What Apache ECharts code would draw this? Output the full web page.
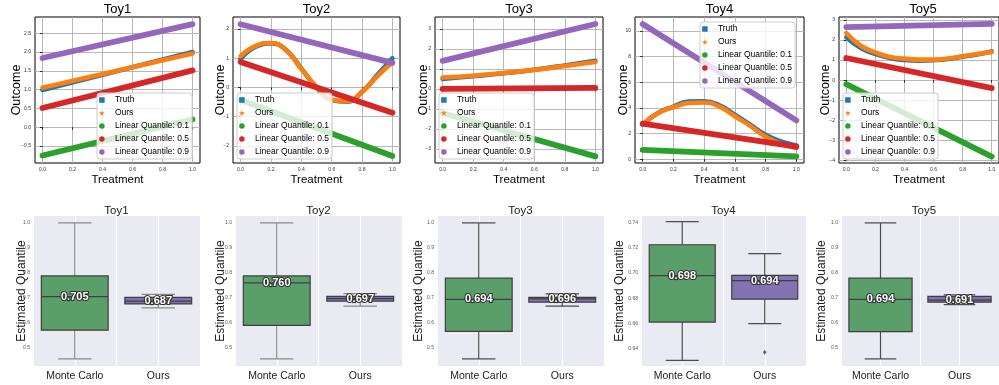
<!DOCTYPE html>
<html><head><meta charset="utf-8">
<script src="https://cdn.jsdelivr.net/npm/echarts@6/dist/echarts.min.js"></script>
<style>html,body{margin:0;padding:0;background:#fff}#c{width:999px;height:385px}</style>
</head><body><div id="c"></div>
<script>
// ---------- data ----------
const toyNames = ['Toy1', 'Toy2', 'Toy3', 'Toy4', 'Toy5'];
const seriesNames = ['Truth', 'Ours', 'Linear Quantile: 0.1', 'Linear Quantile: 0.5', 'Linear Quantile: 0.9'];
const boxCategories = ['Monte Carlo', 'Ours'];

const lineX = [0, 1];
const curveX6 = [0, 0.2, 0.4, 0.6, 0.8, 1.0];
const curveX11 = [0, 0.1, 0.2, 0.3, 0.4, 0.5, 0.6, 0.7, 0.8, 0.9, 1.0];
const treatTicks = [0, 0.2, 0.4, 0.6, 0.8, 1.0];

// Toy1
const toy1Truth = [0.99, 2.0];
const toy1Ours = [1.05, 1.96];
const toy1Q10 = [-0.75, 0.21];
const toy1Q50 = [0.51, 1.51];
const toy1Q90 = [1.84, 2.74];
// Toy2
const toy2Truth = [0.97, 1.39, 1.5, 1.28, 0.65, 0.0, -0.43, -0.49, -0.15, 0.42, 1.0];
const toy2Ours = [1.07, 1.42, 1.52, 1.27, 0.63, 0.02, -0.42, -0.47, -0.16, 0.38, 0.85];
const toy2Q10 = [-0.43, -2.35];
const toy2Q50 = [0.87, -0.87];
const toy2Q90 = [2.16, 0.84];
// Toy3
const toy3Truth = [0.5, 0.63, 0.78, 0.96, 1.17, 1.4];
const toy3Ours = [0.57, 0.66, 0.79, 0.95, 1.14, 1.34];
const toy3Q10 = [-1.2, -3.37];
const toy3Q50 = [0.0, 0.05];
const toy3Q90 = [1.4, 3.24];
// Toy4
const toy4Truth = [2.7, 3.6, 4.1, 4.49, 4.52, 4.2, 3.47, 2.69, 1.9, 1.38, 1.07];
const toy4Ours = [2.72, 3.6, 4.05, 4.38, 4.42, 4.1, 3.35, 2.6, 1.75, 1.2, 0.88];
const toy4Q10 = [0.73, 0.22];
const toy4Q50 = [2.77, 0.97];
const toy4Q90 = [10.55, 3.03];
// Toy5
const toy5Truth = [2.13, 1.6, 1.3, 1.1, 1.0, 0.97, 0.99, 1.05, 1.17, 1.28, 1.43];
const toy5Ours = [2.34, 1.71, 1.38, 1.15, 1.07, 1.02, 1.02, 1.08, 1.19, 1.3, 1.4];
const toy5Q10 = [-0.2, -3.8];
const toy5Q50 = [1.1, -0.4];
const toy5Q90 = [2.64, 2.8];

// top-row y tick labels
const topYTicks1 = [-0.5, 0, 0.5, 1, 1.5, 2, 2.5];
const topYTicks2 = [-2, -1, 0, 1, 2];
const topYTicks3 = [-3, -2, -1, 0, 1, 2, 3];
const topYTicks4 = [0, 2, 4, 6, 8, 10];
const topYTicks5 = [-4, -3, -2, -1, 0, 1, 2, 3];
const topYMin = [-0.95, -2.59, -3.7, -0.3, -4.12];
const topYMax = [2.93, 2.41, 3.59, 11.1, 3.14];

// bottom-row boxes: [min, Q1, median, Q3, max]
const mcBox1 = [0.456, 0.571, 0.705, 0.788, 1.0];
const mcBox2 = [0.456, 0.590, 0.760, 0.788, 1.0];
const mcBox3 = [0.456, 0.566, 0.694, 0.779, 1.0];
const mcBox4 = [0.6305, 0.661, 0.698, 0.7226, 0.741];
const mcBox5 = [0.456, 0.565, 0.694, 0.779, 1.0];
const oursBox1 = [0.660, 0.676, 0.687, 0.702, 0.714];
const oursBox2 = [0.667, 0.687, 0.697, 0.706, 0.717];
const oursBox3 = [0.667, 0.683, 0.696, 0.702, 0.716];
const oursBox4 = [0.6597, 0.6792, 0.694, 0.6982, 0.7155];
const oursBox5 = [0.673, 0.683, 0.691, 0.706, 0.712];
const oursOutliers4 = [0.637];
const botYTicksA = [0.5, 0.6, 0.7, 0.8, 0.9, 1.0];
const botYTicks4 = [0.64, 0.66, 0.68, 0.70, 0.72, 0.74];

// ---------- assembly ----------
const FONT = 'Liberation Sans';
const colors = ['#1f77b4', '#ff7f0e', '#2ca02c', '#d62728', '#9467bd'];
const lineWidths = [4.6, 4.6, 5.8, 5.8, 5.8];
const pairs = (xs, ys) => xs.map((x, i) => [x, ys[i]]);
const minus = s => String(s).replace('-', '\u2212');

const topCurves = [
  [pairs(lineX, toy1Truth), pairs(lineX, toy1Ours), pairs(lineX, toy1Q10), pairs(lineX, toy1Q50), pairs(lineX, toy1Q90)],
  [pairs(curveX11, toy2Truth), pairs(curveX11, toy2Ours), pairs(lineX, toy2Q10), pairs(lineX, toy2Q50), pairs(lineX, toy2Q90)],
  [pairs(curveX6, toy3Truth), pairs(curveX6, toy3Ours), pairs(lineX, toy3Q10), pairs(lineX, toy3Q50), pairs(lineX, toy3Q90)],
  [pairs(curveX11, toy4Truth), pairs(curveX11, toy4Ours), pairs(lineX, toy4Q10), pairs(lineX, toy4Q50), pairs(lineX, toy4Q90)],
  [pairs(curveX11, toy5Truth), pairs(curveX11, toy5Ours), pairs(lineX, toy5Q10), pairs(lineX, toy5Q50), pairs(lineX, toy5Q90)]
];
const topYTicks = [topYTicks1, topYTicks2, topYTicks3, topYTicks4, topYTicks5];
const topYFmt = [v => minus(v.toFixed(1)), v => minus(v), v => minus(v), v => String(v), v => minus(v)];
const mcBoxes = [mcBox1, mcBox2, mcBox3, mcBox4, mcBox5];
const oursBoxes = [oursBox1, oursBox2, oursBox3, oursBox4, oursBox5];
const botYTicks = [botYTicksA, botYTicksA, botYTicksA, botYTicks4, botYTicksA];

// layout (pixels)
const topGrid = [[35, 165], [233, 167], [435, 168], [635, 169], [839, 168]];
const topNameGap = [12, 6, 5, 4.5, 6.5];
const botGrid = [[33, 167], [235, 167], [437, 167], [641, 165], [841, 166]];
const botNameGap = [5, 8, 12, 15, 13.5];
const botYMin = [0.4275, 0.4275, 0.4275, 0.626, 0.4275];
const botYMax = [1.0275, 1.0275, 1.0275, 0.7455, 1.0275];
const legendPos = [[97, 93], [237, 93], [439, 93], [700, 22], [843, 93]];
const whiskerColors = ['#8a8a8a', '#8a8a8a', '#4d4d4d', '#4d4d4d', '#4d4d4d'];
const boxFills = ['#5a9f6a', '#8173b1'];

const squareIcon = 'path://M0,0L10,0L10,10L0,10Z';
const starIcon = 'path://M50,0L61,35L98,35L68,57L79,91L50,70L21,91L32,57L2,35L39,35Z';
const legendIcons = [squareIcon, starIcon, 'circle', 'circle', 'circle'];

const grid = [], xAxis = [], yAxis = [], series = [], title = [], legend = [];

for (let t = 0; t < 5; t++) {
  // ---- top plot ----
  const gi = grid.length;
  grid.push({left: topGrid[t][0], width: topGrid[t][1], top: 17, height: 146,
    show: true, borderColor: '#000', borderWidth: 1, backgroundColor: 'transparent'});
  xAxis.push({type: 'value', gridIndex: gi, min: -0.05, max: 1.05,
    name: 'Treatment', nameLocation: 'middle', nameGap: 10.5, nameMoveOverlap: false,
    nameTextStyle: {fontFamily: FONT, fontSize: 11.5, color: '#000'},
    axisLine: {show: false},
    axisTick: {show: true, length: 2.5, lineStyle: {color: '#000', width: 0.8}, customValues: treatTicks},
    axisLabel: {customValues: treatTicks, formatter: v => v.toFixed(1), fontFamily: FONT, fontSize: 5, color: '#333', margin: 4},
    splitLine: {show: true, lineStyle: {color: '#b0b0b0', width: 0.9}}
  });
  yAxis.push({type: 'value', gridIndex: gi, min: topYMin[t], max: topYMax[t],
    name: 'Outcome', nameLocation: 'middle', nameGap: topNameGap[t], nameMoveOverlap: false,
    nameTextStyle: {fontFamily: FONT, fontSize: 12.5, color: '#000'},
    axisLine: {show: false},
    axisTick: {show: true, length: 2.5, lineStyle: {color: '#000', width: 0.8}, customValues: topYTicks[t]},
    axisLabel: {customValues: topYTicks[t], formatter: topYFmt[t], fontFamily: FONT, fontSize: 5, color: '#333', margin: 4},
    splitLine: {show: true, lineStyle: {color: '#b0b0b0', width: 0.9}}
  });
  title.push({text: toyNames[t], left: topGrid[t][0] + topGrid[t][1] / 2, top: 3, textAlign: 'center', padding: 0,
    textStyle: {fontFamily: FONT, fontSize: 13, fontWeight: 'normal', color: '#000'}});
  for (let s = 0; s < 5; s++) {
    series.push({type: 'line', name: seriesNames[s], xAxisIndex: gi, yAxisIndex: gi,
      data: topCurves[t][s], showSymbol: false, smooth: topCurves[t][s].length > 2 ? 0.5 : false,
      color: colors[s], lineStyle: {width: lineWidths[s], color: colors[s], cap: 'round', join: 'round'},
      z: 2 + s * 0.01, silent: true, animation: false});
  }
  legend.push({left: legendPos[t][0], top: legendPos[t][1], orient: 'vertical',
    data: seriesNames.map((n, i) => ({name: n, icon: legendIcons[i]})),
    itemWidth: 16, itemHeight: 5.5, itemGap: 3, padding: [2, 3, 2, 2],
    backgroundColor: 'rgba(255,255,255,0.8)', borderColor: '#cccccc', borderWidth: 1, borderRadius: 3,
    textStyle: {fontFamily: FONT, fontSize: 8.5, color: '#000', lineHeight: 10},
    selectedMode: false, z: 6});

  // ---- bottom plot ----
  const bi = grid.length;
  grid.push({left: botGrid[t][0], width: botGrid[t][1], top: 216, height: 150,
    show: true, borderWidth: 0, backgroundColor: '#EAEAF2'});
  xAxis.push({type: 'value', gridIndex: bi, min: -0.5, max: 1.5,
    axisLine: {show: false}, axisTick: {show: false},
    axisLabel: {customValues: [0, 1], formatter: v => boxCategories[v], fontFamily: FONT, fontSize: 10.5, color: '#222', margin: 5},
    splitLine: {show: true, lineStyle: {color: '#ffffff', width: 1}}
  });
  yAxis.push({type: 'value', gridIndex: bi, min: botYMin[t], max: botYMax[t],
    name: 'Estimated Quantile', nameLocation: 'middle', nameGap: botNameGap[t], nameMoveOverlap: false,
    nameTextStyle: {fontFamily: FONT, fontSize: 12, color: '#222'},
    axisLine: {show: false}, axisTick: {show: false},
    axisLabel: {customValues: botYTicks[t], formatter: v => (t === 3 ? v.toFixed(2) : v.toFixed(1)), fontFamily: FONT, fontSize: 5, color: '#555', margin: 3},
    splitLine: {show: false}
  });
  title.push({text: toyNames[t], left: botGrid[t][0] + botGrid[t][1] / 2, top: 205, textAlign: 'center', padding: 0,
    textStyle: {fontFamily: FONT, fontSize: 11.5, fontWeight: 'normal', color: '#222'}});
  const wc = whiskerColors[t];
  series.push({type: 'custom', xAxisIndex: bi, yAxisIndex: bi, silent: true, animation: false,
    encode: {x: 0, y: [1, 2, 3, 4, 5]},
    data: [[0].concat(mcBoxes[t]), [1].concat(oursBoxes[t])],
    renderItem: function (params, api) {
      const ci = api.value(0);
      const lo = api.value(1), q1 = api.value(2), med = api.value(3), q3 = api.value(4), hi = api.value(5);
      const w = api.size([0.8, 0])[0];
      const pLo = api.coord([ci, lo]), pQ1 = api.coord([ci, q1]), pMed = api.coord([ci, med]);
      const pQ3 = api.coord([ci, q3]), pHi = api.coord([ci, hi]);
      const cx = pMed[0];
      const edge = '#3f3f3f';
      return {type: 'group', children: [
        {type: 'line', shape: {x1: cx, y1: pQ1[1], x2: cx, y2: pLo[1]}, style: {stroke: wc, lineWidth: 1.2}},
        {type: 'line', shape: {x1: cx, y1: pQ3[1], x2: cx, y2: pHi[1]}, style: {stroke: wc, lineWidth: 1.2}},
        {type: 'line', shape: {x1: cx - w / 4, y1: pLo[1], x2: cx + w / 4, y2: pLo[1]}, style: {stroke: wc, lineWidth: 1.2}},
        {type: 'line', shape: {x1: cx - w / 4, y1: pHi[1], x2: cx + w / 4, y2: pHi[1]}, style: {stroke: wc, lineWidth: 1.2}},
        {type: 'rect', shape: {x: cx - w / 2, y: pQ3[1], width: w, height: pQ1[1] - pQ3[1]},
          style: {fill: boxFills[ci], stroke: edge, lineWidth: 1.2}},
        {type: 'line', shape: {x1: cx - w / 2, y1: pMed[1], x2: cx + w / 2, y2: pMed[1]}, style: {stroke: edge, lineWidth: 1.2}},
        {type: 'text', x: cx, y: pMed[1], style: {text: med.toFixed(3), align: 'center', verticalAlign: 'middle',
          fill: '#ffffff', stroke: '#333333', lineWidth: 2.2, fontFamily: FONT, fontSize: 11, fontWeight: 'bold'}}
      ]};
    }
  });
  if (t === 3) {
    series.push({type: 'scatter', xAxisIndex: bi, yAxisIndex: bi, silent: true, animation: false,
      data: oursOutliers4.map(v => [1, v]), symbol: 'diamond', symbolSize: [3.5, 5],
      itemStyle: {color: '#3f3f3f'}});
  }
}

const chart = echarts.init(document.getElementById('c'), null, {renderer: 'canvas'});
chart.setOption({animation: false, backgroundColor: '#ffffff', grid, xAxis, yAxis, series, title, legend});
</script>
</body></html>
